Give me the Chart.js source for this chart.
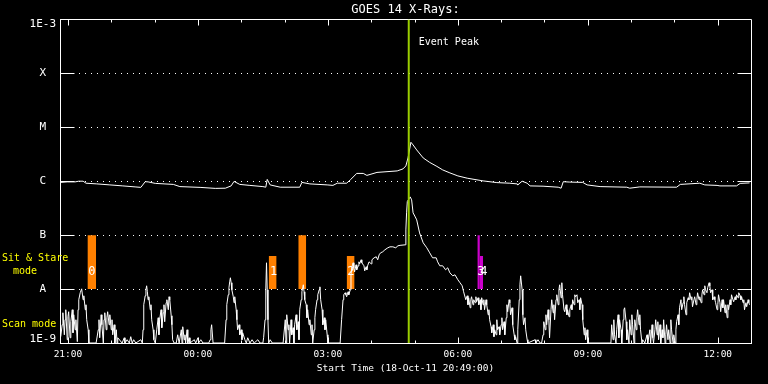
<!DOCTYPE html>
<html>
<head>
<meta charset="utf-8">
<title>GOES 14 X-Rays</title>
<script src="https://cdn.jsdelivr.net/npm/chart.js@4.4.1/dist/chart.umd.min.js"></script>
<style>
  html, body { margin: 0; padding: 0; background: #000; }
  canvas { display: block; }
</style>
</head>
<body>
<canvas id="goesChart" width="768" height="384"></canvas>
<script>
// flux in nW/m^2 (1 = 1E-9 W/m^2), time in minutes after 18-Oct-11 20:49:00
const startLabel = "Start Time (18-Oct-11 20:49:00)";
const endMin = 957;

const xTickMinutes = [11, 191, 371, 551, 731, 911];
const xTickLabels = ["21:00", "00:00", "03:00", "06:00", "09:00", "12:00"];

const yTickValues = [1, 10, 100, 1e3, 1e4, 1e5, 1e6];
const yTickLabels = ["1E-9", "A", "B", "C", "M", "X", "1E-3"];

// 1-8 A channel
const longChannel = [[1,950],[10,971],[21,971],[26,1000],[32,1000],[36,918],[51,891],[69,854],[87,818],[104,784],[112,768],[118,979],[122,971],[132,911],[157,872],[166,794],[194,768],[215,736],[229,742],[237,818],[241,991],[249,872],[263,836],[281,794],[285,774],[287,1080],[291,854],[305,774],[332,774],[335,950],[346,891],[370,854],[378,836],[384,918],[397,918],[402,1057],[411,1394],[420,1394],[425,1281],[439,1455],[467,1551],[475,1690],[479,1921],[482,2701],[486,5270],[489,4700],[494,3800],[503,2701],[512,2230],[522,1880],[530,1620],[540,1425],[551,1254],[564,1137],[586,1013],[605,942],[623,918],[633,891],[634,854],[640,1000],[647,918],[651,818],[669,808],[690,774],[694,742],[697,979],[706,963],[724,950],[730,854],[748,794],[785,774],[789,742],[803,784],[854,774],[859,872],[886,918],[893,854],[910,836],[914,818],[937,818],[942,911],[955,930]];

// 0.5-4 A channel
const shortChannel = [[1,1.31],[3,2.18],[4,3.64],[6,1.42],[7,2.7],[8,4.14],[10,1.15],[11,3.07],[12,3.8],[14,1.25],[15,2.48],[17,4.14],[18,1.55],[19,3.34],[21,1.76],[22,2.7],[24,1.06],[25,4.14],[26,6.34],[28,8.54],[30,10.1],[32,6.34],[33,7.51],[35,4.14],[36,5.12],[37,2.7],[39,1.76],[40,1],[50,1],[53,1.76],[54,2.7],[55,1.25],[57,3.34],[58,2.18],[60,1],[61,2.7],[62,3.64],[64,1.76],[65,2.94],[66,3.8],[68,2.18],[69,3.34],[71,1.76],[72,2.7],[73,1.42],[75,2.18],[76,1],[78,1.76],[79,1],[80,1.25],[86,1],[89,1.25],[90,1],[93,1.15],[96,1],[98,1.31],[100,1],[102,1.15],[105,1],[112,1.15],[114,1],[115,1.76],[116,5.12],[118,7.51],[119,9.7],[120,11.5],[121,8.91],[122,6.34],[123,7.2],[125,4.14],[126,5.12],[127,2.7],[129,1.76],[130,1.15],[132,1],[134,1.76],[136,2.94],[137,1.42],[138,2.7],[140,4.14],[141,1.92],[143,3.64],[144,5.12],[145,2.48],[147,5.58],[148,6.34],[150,4.14],[151,7.2],[152,6.34],[154,3.2],[155,2.18],[156,1.15],[158,1],[161,1],[163,1.42],[165,1],[168,1.76],[169,1],[170,2],[172,1.15],[173,1.42],[174,1],[176,1.76],[177,1],[179,1.25],[180,1],[186,1.15],[188,1],[191,1.25],[192,1],[195,1.15],[198,1],[206,1],[208,1.15],[209,1.76],[210,2.18],[212,1],[228,1],[230,2.7],[231,5.12],[233,7.84],[234,10.6],[235,13.6],[236,16.2],[237,13.1],[238,9.7],[240,7.2],[241,5.58],[242,7.2],[244,4.14],[245,2.7],[246,1.76],[248,2.18],[249,1.42],[251,1.76],[252,1.15],[253,1.55],[256,1.15],[258,1],[260,1.25],[263,1],[266,1.15],[269,1],[274,1.15],[277,1],[281,1],[282,1.25],[284,2.7],[285,9.7],[286,30.7],[287,9.7],[288,2.7],[289,1],[291,1.15],[294,1],[309,1],[312,2.7],[313,1],[314,3.34],[316,1.76],[317,2.18],[318,1],[320,2.7],[321,1.42],[323,1.92],[324,1],[325,2.18],[327,3.34],[328,1.76],[330,2.48],[331,1.15],[332,4.14],[334,6.34],[335,8.91],[337,12],[338,8.91],[339,6.34],[341,5.12],[342,2.94],[343,4.14],[345,2.18],[346,2.7],[348,1.42],[349,2.18],[350,1],[352,1.76],[353,2.94],[354,4.14],[356,6.34],[357,7.84],[359,9.7],[360,11],[361,6.34],[363,4.14],[364,2.18],[366,2.94],[367,1.76],[368,2.7],[370,1.42],[371,1],[388,1],[390,2.7],[392,6.34],[393,7.84],[395,8.54],[396,7.84],[397,7.2],[399,8.91],[400,7.84],[402,9.7],[403,18.4],[404,24.8],[406,30.7],[407,24.8],[408,20.9],[410,28.2],[411,22.8],[413,27],[414,32],[415,29.4],[417,34.9],[418,30.7],[421,27],[422,21.8],[424,25.9],[425,22.8],[426,27],[428,32],[431,29.4],[432,34.9],[435,38],[438,39.7],[440,34.9],[442,43.2],[444,47],[447,49.1],[450,53.5],[454,58.2],[457,60.7],[461,60.7],[465,58.2],[468,63.4],[471,64.7],[478,66.1],[479,125],[480,259],[481,419],[485,512],[487,451],[489,259],[492,218],[494,192],[498,110],[503,72],[508,58.2],[512,47],[516,38],[521,38],[523,32],[526,27],[530,27],[534,22.8],[537,24.8],[540,20],[544,17.6],[547,18.4],[551,14.9],[554,13.1],[557,11.5],[559,8.91],[562,6.34],[564,7.51],[565,5.12],[566,6.9],[568,4.5],[569,6.34],[570,7.2],[572,5.12],[573,6.34],[575,5.58],[576,7.2],[577,5.82],[579,6.9],[580,5.12],[582,6.34],[583,4.14],[584,6.9],[586,5.12],[587,6.34],[588,4.14],[590,6.34],[591,5.12],[593,3.34],[594,4.14],[595,2.7],[597,2],[598,1.55],[600,2.18],[601,1.31],[602,1.76],[604,1.42],[605,2.7],[606,1.76],[608,2],[609,1.42],[611,2.18],[612,2.94],[613,1.76],[615,2.48],[616,1.42],[618,2.94],[619,5.12],[620,3.8],[622,6.34],[623,5.58],[624,3.34],[626,4.5],[627,2.18],[629,1.42],[630,1.15],[631,1.31],[633,1],[634,1.76],[636,6.34],[637,12],[638,17.6],[640,9.7],[641,3.34],[642,2.18],[644,2.94],[645,1.76],[647,1.15],[648,1],[658,1.15],[659,1],[662,1.15],[665,1],[667,1],[669,1.42],[670,2.48],[672,1.76],[673,3.34],[674,2.18],[676,4.14],[677,2.7],[678,1.25],[680,4.14],[681,6.34],[683,3.64],[684,5.12],[685,2.7],[687,6.34],[688,7.84],[690,5.12],[691,9.7],[692,12],[694,6.9],[695,13.1],[696,7.84],[698,4.14],[699,3.8],[701,5.12],[702,3.34],[703,4.14],[705,3.07],[706,4.14],[708,5.12],[709,4.14],[710,6.34],[712,5.12],[713,7.84],[714,7.2],[716,7.84],[717,5.58],[719,6.34],[720,4.14],[721,6.9],[723,5.12],[724,2.7],[726,1.42],[727,1.92],[728,1.15],[730,1.76],[731,1],[763,1],[764,2.18],[766,1.15],[767,2.7],[768,1.42],[770,1],[771,1.76],[773,3.34],[774,1.25],[775,2.7],[777,1.76],[778,1],[780,2.7],[781,4.14],[782,4.5],[784,2.48],[785,1.15],[786,1.76],[788,1],[789,2.7],[791,1.42],[792,3.34],[793,2.18],[795,1],[796,2.7],[798,1.76],[799,2.94],[800,4.14],[802,2.18],[803,3.34],[804,1.76],[806,1],[807,1.15],[810,1],[813,1.42],[814,1],[817,1.76],[818,1],[820,2.18],[821,1.25],[822,1],[824,1.76],[825,2.7],[827,1.42],[828,2.48],[829,1.15],[831,2.18],[832,1],[834,1.76],[835,1.25],[836,2.7],[838,1],[839,1.42],[840,2.18],[842,1.15],[843,1.76],[845,1],[846,2.7],[847,1.76],[849,1],[850,1.42],[852,1],[853,1.76],[854,2.48],[856,3.34],[857,2.18],[858,4.5],[860,6.34],[861,4.14],[863,5.58],[864,7.2],[865,5.12],[867,3.34],[868,5.58],[870,6.9],[871,6.34],[872,8.54],[874,6.34],[875,7.2],[876,4.7],[878,6.34],[879,7.2],[881,5.12],[882,6.34],[883,8.54],[885,6.34],[886,7.2],[888,5.58],[889,7.84],[890,9.7],[892,7.84],[893,11.5],[894,9.7],[896,8.54],[897,10.6],[899,13.1],[900,11.5],[901,8.54],[903,9.7],[904,6.34],[906,7.2],[907,6.34],[908,5.58],[910,4.14],[911,5.12],[912,7.84],[914,5.58],[915,3.8],[917,6.34],[918,4.5],[919,6.34],[921,3.64],[922,5.12],[924,2.94],[925,5.12],[926,4.14],[928,6.34],[929,5.12],[930,7.84],[932,6.34],[933,5.82],[935,7.2],[936,6.34],[937,7.84],[939,6.9],[940,8.54],[942,7.51],[943,6.34],[944,7.2],[946,5.58],[947,6.34],[948,4.14],[950,5.58],[951,4.7],[953,6.34],[954,5.58],[955,5.12]];

// sit & stare observing windows
const stareStart = [38, 289, 330, 397, 578, 581.5];
const stareEnd   = [50, 300, 341, 408, 581.5, 586];
const stareTop   = [100, 41, 100, 41, 100, 41];
const stareKind  = [0, 0, 0, 0, 1, 1];

const stareLabels   = ["0", "1", "2", "3", "4"];
const stareLabelMin = [44, 296, 403, 583, 587];

const eventPeakMin = 483;

const font = "'DejaVu Sans Mono', monospace";
const stareColors = ["#ff8000", "#cc00cc"];
const toXY = pts => pts.map(([t, f]) => ({ x: t, y: f }));
const yMin = yTickValues[0], yMax = yTickValues[yTickValues.length - 1];
const levelA = yTickValues[1];

const stareSets = stareStart.map((t0, i) => ({
  data: [{ x: t0, y: stareTop[i] }, { x: stareEnd[i], y: stareTop[i] }],
  borderColor: "rgba(0,0,0,0)",
  borderWidth: 0,
  pointRadius: 0,
  backgroundColor: stareColors[stareKind[i]],
  fill: { value: levelA },
  order: 3
}));

// axes frame, inward ticks and annotation text
const decorations = {
  id: "decorations",
  beforeDatasetsDraw(chart) {
    const { ctx, chartArea: a, scales: { x, y } } = chart;
    const top = Math.round(a.top) + 0.5, right = Math.round(a.right) + 0.5;
    const bottom = Math.round(a.bottom) + 0.5, left = Math.round(a.left) + 0.5;
    ctx.save();
    ctx.strokeStyle = "#fff";
    ctx.lineWidth = 1;
    ctx.beginPath();
    ctx.moveTo(left, top); ctx.lineTo(right, top); ctx.lineTo(right, bottom);
    for (let i = 1; i < yTickValues.length - 1; i++) {
      const py = Math.round(y.getPixelForValue(yTickValues[i])) + 0.5;
      ctx.moveTo(left, py); ctx.lineTo(left + 14, py);
      ctx.moveTo(right - 14, py); ctx.lineTo(right, py);
    }
    for (let m = xTickMinutes[0]; m <= endMin; m += 60) {
      const px = Math.round(x.getPixelForValue(m)) + 0.5;
      const len = (m - xTickMinutes[0]) % 180 === 0 ? 6 : 3;
      ctx.moveTo(px, top); ctx.lineTo(px, top + len);
      ctx.moveTo(px, bottom); ctx.lineTo(px, bottom - len);
    }
    ctx.stroke();
    ctx.restore();
  },
  afterDatasetsDraw(chart) {
    const { ctx, chartArea: a, scales: { x, y } } = chart;
    const aPx = y.getPixelForValue(levelA);
    ctx.save();
    ctx.textBaseline = "middle";

    ctx.fillStyle = "#fff";
    ctx.font = "10px " + font;
    ctx.textAlign = "left";
    ctx.fillText("Event Peak", x.getPixelForValue(eventPeakMin) + 10, a.top + 23);

    ctx.font = "12px " + font;
    ctx.textAlign = "center";
    stareLabels.forEach((s, i) => {
      ctx.fillText(s, x.getPixelForValue(stareLabelMin[i]), aPx - 17);
    });

    ctx.fillStyle = "#ffff00";
    ctx.font = "10px " + font;
    ctx.textAlign = "left";
    ctx.fillText("Sit & Stare", 2, aPx - 31);
    ctx.fillText("mode", 13, aPx - 18);
    ctx.fillText("Scan mode", 2, aPx + 35);
    ctx.restore();
  }
};

new Chart(document.getElementById("goesChart"), {
  type: "line",
  data: {
    datasets: [
      {
        data: [{ x: eventPeakMin, y: yMin }, { x: eventPeakMin, y: yMax }],
        borderColor: "#9acd00",
        borderWidth: 2,
        pointRadius: 0,
        order: 0
      },
      {
        data: toXY(longChannel),
        borderColor: "#fff",
        borderWidth: 1,
        pointRadius: 0,
        order: 1
      },
      {
        data: toXY(shortChannel),
        borderColor: "#fff",
        borderWidth: 1,
        pointRadius: 0,
        order: 1
      },
      ...stareSets
    ]
  },
  options: {
    responsive: false,
    animation: false,
    events: [],
    layout: { padding: { left: 0, right: 17, top: 0, bottom: 0 } },
    plugins: {
      legend: { display: false },
      tooltip: { enabled: false },
      title: {
        display: true,
        text: "GOES 14 X-Rays:",
        color: "#fff",
        fullSize: false,
        font: { family: font, size: 12, weight: "normal" },
        padding: { top: 3, bottom: 2 }
      }
    },
    scales: {
      x: {
        type: "linear",
        min: 0,
        max: endMin,
        afterFit: s => { s.height = 41; },
        afterBuildTicks: s => { s.ticks = xTickMinutes.map(v => ({ value: v })); },
        ticks: {
          color: "#fff",
          font: { family: font, size: 9.5 },
          padding: 6,
          autoSkip: false,
          maxRotation: 0,
          callback: (v, i) => xTickLabels[i]
        },
        grid: { display: false, drawTicks: false },
        border: { display: true, color: "#fff", width: 1 },
        title: {
          display: true,
          text: startLabel,
          color: "#fff",
          font: { family: font, size: 9.5 },
          padding: { top: 0, bottom: 10 }
        }
      },
      y: {
        type: "logarithmic",
        min: yMin,
        max: yMax,
        afterFit: s => { s.width = 60; },
        // end labels sit slightly inside the frame, as in the original plot
        afterBuildTicks: s => {
          const last = yTickValues.length - 1;
          s.ticks = yTickValues.map((v, i) => ({ value: i === 0 ? v * 1.2 : i === last ? v / 1.2 : v }));
        },
        ticks: {
          color: "#fff",
          font: { family: font, size: 11 },
          crossAlign: "center",
          padding: 4,
          autoSkip: false,
          callback: (v, i) => yTickLabels[i]
        },
        grid: {
          drawTicks: false,
          color: c => (c.index > 0 && c.index < yTickValues.length - 1) ? "#fff" : "rgba(0,0,0,0)",
          lineWidth: 1
        },
        border: { display: true, color: "#fff", width: 1, dash: [1, 5] }
      }
    }
  },
  plugins: [decorations]
});
</script>
</body>
</html>
